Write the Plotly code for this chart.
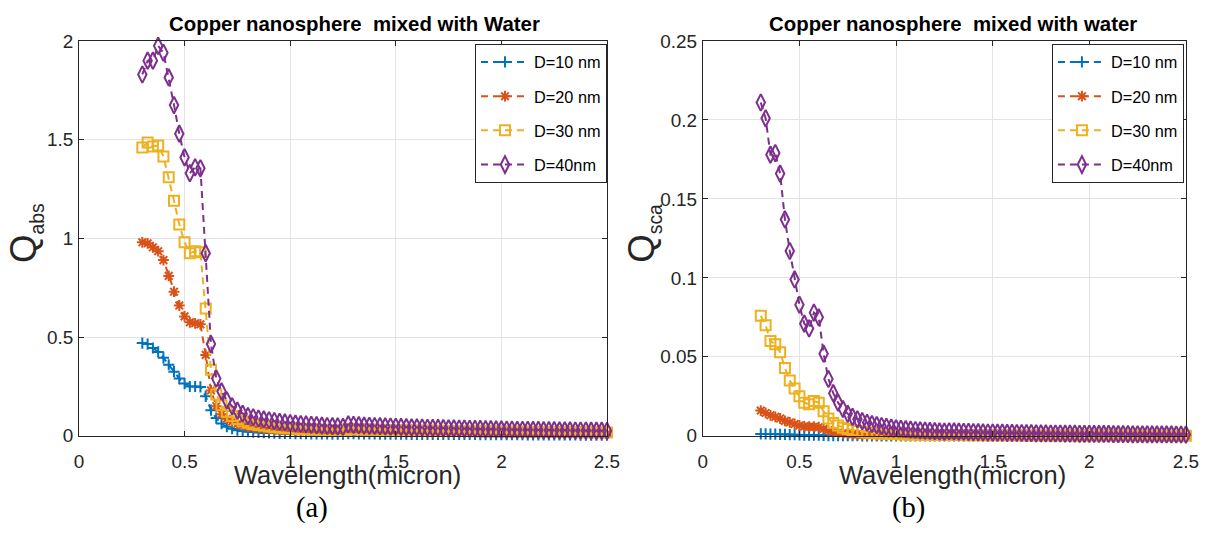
import plotly.graph_objects as go

# ---------------- data ----------------
wavelength = [0.3, 0.325, 0.35, 0.375, 0.4, 0.425, 0.45, 0.475, 0.5, 0.525,
              0.55, 0.575, 0.6, 0.625, 0.65, 0.675, 0.7, 0.725, 0.75, 0.775,
              0.8, 0.825, 0.85, 0.875, 0.9, 0.925, 0.95, 0.975, 1.0, 1.025,
              1.05, 1.075, 1.1, 1.125, 1.15, 1.175, 1.2, 1.225, 1.25, 1.275,
              1.3, 1.325, 1.35, 1.375, 1.4, 1.425, 1.45, 1.475, 1.5, 1.525,
              1.55, 1.575, 1.6, 1.625, 1.65, 1.675, 1.7, 1.725, 1.75, 1.775,
              1.8, 1.825, 1.85, 1.875, 1.9, 1.925, 1.95, 1.975, 2.0, 2.025,
              2.05, 2.075, 2.1, 2.125, 2.15, 2.175, 2.2, 2.225, 2.25, 2.275,
              2.3, 2.325, 2.35, 2.375, 2.4, 2.425, 2.45, 2.475, 2.5]

labels = ["D=10 nm", "D=20 nm", "D=30 nm", "D=40nm"]

qabs_d10 = [0.47, 0.465, 0.445, 0.425, 0.395, 0.36, 0.325, 0.29, 0.265, 0.25, 0.25, 0.248, 0.2, 0.13, 0.09, 0.062, 0.046, 0.036, 0.029, 0.024, 0.021,
            0.019, 0.017, 0.016, 0.015, 0.014, 0.013, 0.012, 0.012,
            0.011, 0.011, 0.011, 0.010, 0.010, 0.010, 0.010, 0.009, 0.009, 0.009,
            0.011, 0.011, 0.010, 0.010, 0.010, 0.010, 0.009, 0.009, 0.009, 0.009,
            0.009, 0.009, 0.008, 0.008, 0.008, 0.008, 0.008, 0.008, 0.007, 0.007, 0.007, 0.007, 0.007, 0.007, 0.007, 0.006, 0.006, 0.006, 0.006, 0.006,
            0.006, 0.006, 0.006, 0.006, 0.005, 0.005, 0.005, 0.005, 0.005, 0.005, 0.005, 0.005, 0.005, 0.005, 0.004, 0.004, 0.004, 0.004, 0.004, 0.004]
qabs_d20 = [0.98, 0.975, 0.955, 0.935, 0.89, 0.81, 0.73, 0.66, 0.605, 0.575, 0.57, 0.565, 0.41, 0.23, 0.15, 0.11, 0.087, 0.072, 0.061, 0.053, 0.047,
            0.043, 0.039, 0.036, 0.033, 0.031, 0.029, 0.027, 0.026,
            0.025, 0.024, 0.023, 0.022, 0.022, 0.021, 0.021, 0.020, 0.020, 0.019,
            0.024, 0.023, 0.022, 0.022, 0.021, 0.021, 0.020, 0.020, 0.020, 0.019,
            0.019, 0.019, 0.018, 0.018, 0.018, 0.018, 0.017, 0.017, 0.017, 0.017, 0.016, 0.016, 0.016, 0.016, 0.016, 0.015, 0.015, 0.015, 0.015, 0.015,
            0.015, 0.014, 0.014, 0.014, 0.014, 0.014, 0.014, 0.013, 0.013, 0.013, 0.013, 0.013, 0.013, 0.013, 0.012, 0.012, 0.012, 0.012, 0.012, 0.012]
qabs_d30 = [1.46, 1.485, 1.465, 1.47, 1.415, 1.31, 1.19, 1.07, 0.98, 0.925, 0.935, 0.93, 0.645, 0.335, 0.21, 0.155, 0.122, 0.1, 0.085, 0.074, 0.066,
            0.06, 0.055, 0.051, 0.047, 0.044, 0.042, 0.04, 0.038,
            0.036, 0.035, 0.034, 0.033, 0.032, 0.031, 0.030, 0.029, 0.029, 0.028,
            0.036, 0.035, 0.034, 0.033, 0.032, 0.031, 0.031, 0.030, 0.030, 0.029,
            0.029, 0.028, 0.028, 0.027, 0.027, 0.027, 0.026, 0.026, 0.025, 0.025, 0.025, 0.024, 0.024, 0.024, 0.023, 0.023, 0.023, 0.022, 0.022, 0.022,
            0.022, 0.021, 0.021, 0.021, 0.021, 0.020, 0.020, 0.020, 0.020, 0.019, 0.019, 0.019, 0.019, 0.019, 0.018, 0.018, 0.018, 0.018, 0.018, 0.017]
qabs_d40 = [1.83, 1.9, 1.9, 1.975, 1.94, 1.815, 1.675, 1.53, 1.41, 1.33, 1.36, 1.355, 0.925, 0.465, 0.29, 0.225, 0.18, 0.15, 0.128, 0.112, 0.1,
            0.094, 0.088, 0.083, 0.079, 0.075, 0.071, 0.068, 0.065,
            0.062, 0.06, 0.058, 0.056, 0.054, 0.052, 0.05, 0.049, 0.048, 0.046,
            0.058, 0.056, 0.054, 0.052, 0.051, 0.05, 0.049, 0.048, 0.047, 0.046,
            0.045, 0.044, 0.043, 0.043, 0.042, 0.041, 0.04, 0.04, 0.039, 0.038, 0.038, 0.037, 0.037, 0.036, 0.035, 0.035, 0.034, 0.034, 0.033, 0.033,
            0.032, 0.032, 0.031, 0.031, 0.031, 0.030, 0.030, 0.029, 0.029, 0.029, 0.028, 0.028, 0.028, 0.027, 0.027, 0.027, 0.026, 0.026, 0.026, 0.025]

qsca_d10 = [0.0012, 0.0012, 0.0011, 0.0011, 0.001, 0.0009, 0.0008, 0.0007, 0.0006, 0.0005, 0.0005, 0.0005, 0.0004, 0.0003, 0.0002, 0.00015, 0.0001, 0.0001, 0.00008, 0.00007, 0.00006,
            0.00005, 0.00005, 0.00004, 0.00004, 0.00003, 0.00003, 0.00003, 0.00002,
            0.00002, 0.00002, 0.00002, 0.00002, 0.00002, 0.00002, 0.00002, 0.00002, 0.00002, 0.00002,
            0.00002, 0.00002, 0.00002, 0.00002, 0.00002, 0.00002, 0.00002, 0.00002, 0.00002, 0.00002,
            0.00001, 0.00001, 0.00001, 0.00001, 0.00001, 0.00001, 0.00001, 0.00001, 0.00001, 0.00001, 0.00001, 0.00001, 0.00001, 0.00001, 0.00001, 0.00001, 0.00001, 0.00001, 0.00001, 0.00001,
            0.00001, 0.00001, 0.00001, 0.00001, 0.00001, 0.00001, 0.00001, 0.00001, 0.00001, 0.00001, 0.00001, 0.00001, 0.00001, 0.00001, 0.00001, 0.00001, 0.00001, 0.00001, 0.00001, 0.00001]
qsca_d20 = [0.016, 0.0145, 0.013, 0.012, 0.011, 0.0095, 0.0085, 0.0075, 0.0066, 0.006, 0.0058, 0.0058, 0.0055, 0.0045, 0.0035, 0.0026, 0.002, 0.0016, 0.0013, 0.0011, 0.0009,
            0.0008, 0.0007, 0.0006, 0.0005, 0.00045, 0.0004, 0.00035, 0.0003,
            0.00028, 0.00026, 0.00024, 0.00022, 0.0002, 0.00019, 0.00018, 0.00017, 0.00016, 0.00015,
            0.00016, 0.00015, 0.00014, 0.00013, 0.00013, 0.00012, 0.00012, 0.00011, 0.00011, 0.0001,
            0.0001, 0.0001, 0.00009, 0.00009, 0.00009, 0.00008, 0.00008, 0.00008, 0.00007, 0.00007, 0.00007, 0.00006, 0.00006, 0.00006, 0.00006, 0.00005, 0.00005, 0.00005, 0.00005, 0.00005,
            0.00004, 0.00004, 0.00004, 0.00004, 0.00004, 0.00004, 0.00003, 0.00003, 0.00003, 0.00003, 0.00003, 0.00003, 0.00003, 0.00002, 0.00002, 0.00002, 0.00002, 0.00002, 0.00002, 0.00002]
qsca_d30 = [0.076, 0.07, 0.06, 0.058, 0.053, 0.043, 0.035, 0.03, 0.025, 0.021, 0.02, 0.022, 0.021, 0.0155, 0.011, 0.0082, 0.0065, 0.0052, 0.0043, 0.0036, 0.003,
            0.0026, 0.0022, 0.0019, 0.0017, 0.0015, 0.0013, 0.0012, 0.0011,
            0.001, 0.0009, 0.00085, 0.0008, 0.00075, 0.0007, 0.00065, 0.0006, 0.00057, 0.00054,
            0.00056, 0.00053, 0.0005, 0.00048, 0.00046, 0.00044, 0.00042, 0.0004, 0.00038, 0.00037,
            0.00035, 0.00034, 0.00033, 0.00032, 0.00031, 0.0003, 0.00029, 0.00028, 0.00027, 0.00026, 0.00025, 0.00025, 0.00024, 0.00023, 0.00023, 0.00022, 0.00021, 0.00021, 0.0002, 0.0002,
            0.00019, 0.00019, 0.00018, 0.00018, 0.00017, 0.00017, 0.00016, 0.00016, 0.00016, 0.00015, 0.00015, 0.00015, 0.00014, 0.00014, 0.00014, 0.00013, 0.00013, 0.00013, 0.00012, 0.00012]
qsca_d40 = [0.211, 0.201, 0.178, 0.179, 0.166, 0.137, 0.117, 0.099, 0.083, 0.071, 0.068, 0.078, 0.075, 0.052, 0.036, 0.027, 0.021, 0.017, 0.014, 0.012, 0.0105,
            0.0093, 0.0083, 0.0075, 0.0068, 0.0062, 0.0057, 0.0052, 0.0048,
            0.0045, 0.0042, 0.0039, 0.0037, 0.0035, 0.0033, 0.0031, 0.003, 0.0028, 0.0027,
            0.0029, 0.0028, 0.0027, 0.0026, 0.0025, 0.0024, 0.0023, 0.0022, 0.0021, 0.0021,
            0.002, 0.002, 0.0019, 0.0019, 0.0018, 0.0018, 0.0017, 0.0017, 0.0016, 0.0016, 0.0016, 0.0015, 0.0015, 0.0015, 0.0014, 0.0014, 0.0014, 0.0013, 0.0013, 0.0013,
            0.0012, 0.0012, 0.0012, 0.0012, 0.0011, 0.0011, 0.0011, 0.0011, 0.001, 0.001, 0.001, 0.001, 0.00095, 0.00095, 0.0009, 0.0009, 0.0009, 0.00085, 0.00085, 0.0008]

qabs_series = [qabs_d10, qabs_d20, qabs_d30, qabs_d40]
qsca_series = [qsca_d10, qsca_d20, qsca_d30, qsca_d40]

# ---------------- style ----------------
W, H = 1210, 552
# the page (body margin 8px) is photographed and fitted back into 1210x552,
# so target pixel positions are converted into figure pixels with this map
BODY_M = 8
SX = W / (W + 2 * BODY_M)
SY = H / (H + 2 * BODY_M)
FS = 1.02  # font compensation for that fit
colors = ["#0072BD", "#D95319", "#EDB120", "#7E2F8E"]
symbols = ["cross-thin", "asterisk-open", "square-open", "diamond-tall-open"]
sizes = [8, 9, 10, 12]
SANS = "Liberation Sans, Arial, Helvetica, sans-serif"
SERIF = "Liberation Serif, Times New Roman, serif"
AXC = "#262626"

def px(x):
    return (x / SX - BODY_M) / W

def py(y):
    return 1 - (y / SY - BODY_M) / H

def fs(s):
    return round(s * FS, 1)

fig = go.Figure()

for k in range(4):
    for series, xa, ya, lg in [(qabs_series, "x", "y", "legend"), (qsca_series, "x2", "y2", "legend2")]:
        fig.add_trace(go.Scatter(
            x=wavelength, y=series[k], xaxis=xa, yaxis=ya,
            mode="lines+markers", name=labels[k], legend=lg,
            legendgroup=lg + str(k), cliponaxis=False,
            line=dict(color=colors[k], width=2, dash="7px,5px"),
            marker=dict(symbol=symbols[k], size=sizes[k], color=colors[k],
                        line=dict(color=colors[k], width=2)),
        ))

ydom = [py(438), py(39)]
axis_common = dict(showline=True, linecolor=AXC, linewidth=1, mirror="ticks",
                   ticks="inside", ticklen=5, tickcolor=AXC, tickwidth=1,
                   showgrid=True, gridcolor="#e3e3e3", gridwidth=1, zeroline=False,
                   tickfont=dict(family=SANS, size=fs(18.5), color=AXC))

legend_common = dict(xanchor="right", yanchor="top", bgcolor="white",
                     bordercolor=AXC, borderwidth=1, itemwidth=48,
                     font=dict(family=SANS, size=fs(16), color="black"),
                     traceorder="grouped", tracegroupgap=10)

fig.update_layout(
    width=W, height=H, margin=dict(l=0, r=0, t=0, b=0),
    paper_bgcolor="white", plot_bgcolor="white", autosize=False,
    xaxis=dict(domain=[px(82), px(611)], range=[0, 2.5], dtick=0.5, anchor="y",
               ticklabelstandoff=8, **axis_common),
    yaxis=dict(domain=ydom, range=[0, 2], dtick=0.5, anchor="x",
               ticklabelstandoff=1, **axis_common),
    xaxis2=dict(domain=[px(707), px(1191)], range=[0, 2.5], dtick=0.5, anchor="y2",
                ticklabelstandoff=8, **axis_common),
    yaxis2=dict(domain=ydom, range=[0, 0.25], dtick=0.05, anchor="x2",
                ticklabelstandoff=1, **axis_common),
    legend=dict(x=px(611), y=py(42), **legend_common),
    legend2=dict(x=px(1189), y=py(42), **legend_common),
)

ylab_abs = "Q<sub><span style='font-size:%spx'>abs</span></sub>" % fs(19)
ylab_sca = "Q<sub><span style='font-size:%spx'>sca</span></sub>" % fs(19)

annotations = [
    dict(text="<b>Copper nanosphere \u00a0mixed with Water</b>", x=px(358), y=py(22),
         font=dict(family=SANS, size=fs(20), color="black")),
    dict(text="<b>Copper nanosphere \u00a0mixed with water</b>", x=px(958), y=py(22),
         font=dict(family=SANS, size=fs(20), color="black")),
    dict(text="Wavelength(micron)", x=px(351), y=py(478),
         font=dict(family=SANS, size=fs(25), color=AXC)),
    dict(text="Wavelength(micron)", x=px(957), y=py(478),
         font=dict(family=SANS, size=fs(25), color=AXC)),
    dict(text=ylab_abs, x=px(29), y=py(233), textangle=-90,
         font=dict(family=SANS, size=fs(36), color=AXC)),
    dict(text=ylab_sca, x=px(648), y=py(233), textangle=-90,
         font=dict(family=SANS, size=fs(36), color=AXC)),
    dict(text="(a)", x=px(315), y=py(511),
         font=dict(family=SERIF, size=fs(28), color="black")),
    dict(text="(b)", x=px(913), y=py(511),
         font=dict(family=SERIF, size=fs(28), color="black")),
]
for a in annotations:
    a.update(xref="paper", yref="paper", showarrow=False, xanchor="center", yanchor="middle")
fig.update_layout(annotations=annotations)

fig.write_html("out.html")
